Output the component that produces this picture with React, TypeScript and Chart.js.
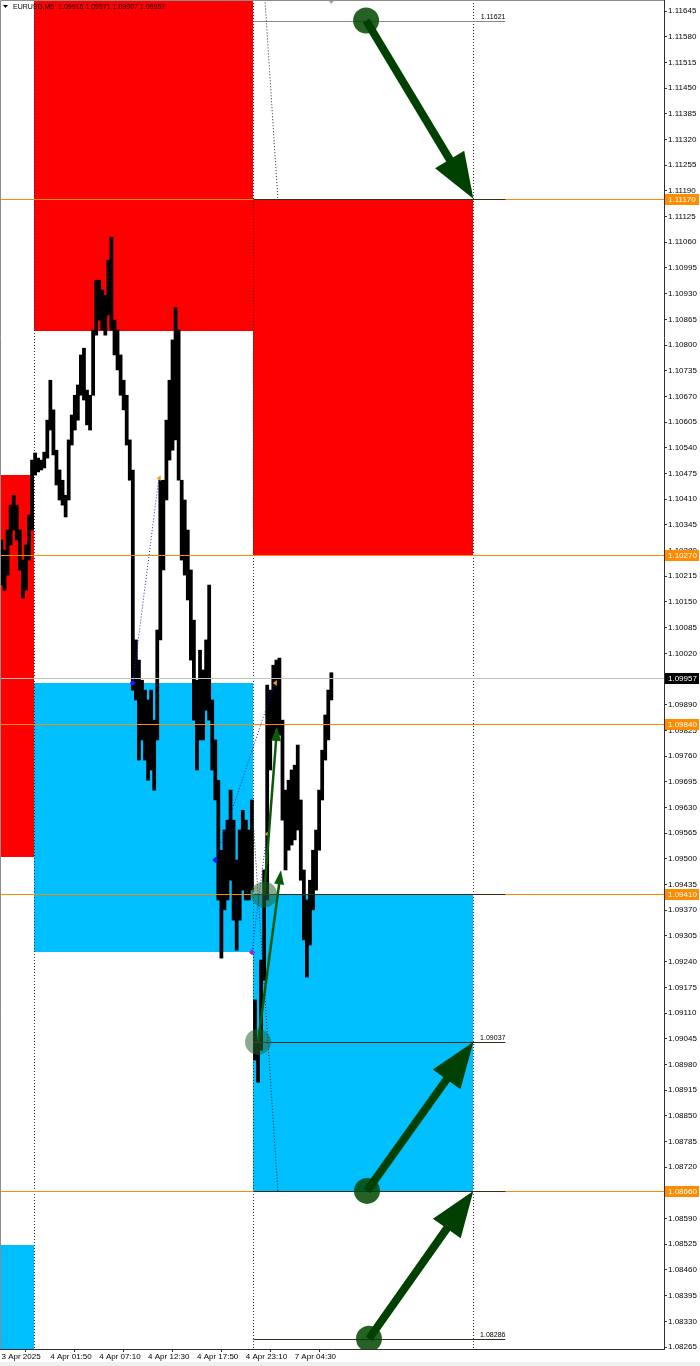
import React, { useEffect, useRef } from "react";
import { Chart, registerables } from "chart.js";

Chart.register(...registerables);

// ---------- DATA ----------
// M5 bar index counted from 3 Apr 2025 20:30 (server time)
const barIndex = [
  0, 4, 8, 12, 16, 20, 24, 28, 32, 36, 40, 44, 48, 52, 56, 60, 64, 68, 72, 76,
  80, 84, 88, 92, 96, 100, 104, 108, 112, 116, 120, 124, 128, 132, 136, 140, 144, 148, 152, 156,
  160, 164, 168, 172, 176, 180, 184, 188, 192, 196, 200, 204, 208, 212, 216, 220, 224, 228, 232, 236,
  240, 244, 248, 252, 256, 260, 264, 268, 272, 276, 280, 284, 288, 292, 296, 300, 304, 308, 312, 316,
  320, 324, 328,
  332, 336, 340, 344, 348, 352, 356, 360, 364, 368, 372, 376, 380, 384, 388, 392, 396, 400, 404, 408,
  412, 416, 420, 424, 428, 432,
];
const highs = [
  1.10307, 1.10281, 1.10332, 1.10395, 1.1042, 1.10395, 1.10332, 1.10256, 1.10294, 1.1037, 1.10509, 1.10527, 1.10514, 1.10509, 1.10529, 1.1061, 1.10711, 1.10636, 1.10534, 1.10484,
  1.10458, 1.1042, 1.1056, 1.10623, 1.10673, 1.10699, 1.10775, 1.10792, 1.10686, 1.10673, 1.10838, 1.10964, 1.10964, 1.10939, 1.10926, 1.11015, 1.11073, 1.10863, 1.10838, 1.10775,
  1.10711, 1.10673, 1.1056, 1.10484, 1.10054, 1.10003, 1.09952, 1.09927, 1.09902, 1.09927, 1.09851, 1.10079, 1.10458, 1.10458, 1.1061, 1.10711, 1.10813, 1.10894, 1.10838, 1.10458,
  1.10408, 1.10332, 1.10231, 1.10104, 1.09952, 1.10028, 1.09978, 1.10054, 1.10193, 1.09902, 1.09801, 1.09699, 1.09522, 1.09573, 1.09598, 1.09674, 1.09598, 1.09497, 1.09573, 1.09623,
  1.09598, 1.09573, 1.09649,
  1.09143, 1.09042, 1.09244, 1.09472, 1.0994, 1.09927, 1.0999, 1.10003, 1.10008, 1.09851, 1.09674, 1.09699, 1.09725, 1.09737, 1.09788, 1.09649, 1.09472, 1.09396, 1.09446, 1.09522,
  1.09573, 1.09674, 1.09775, 1.09864, 1.09927, 1.09971,
];
const lows = [
  1.10193, 1.1018, 1.10218, 1.10294, 1.10332, 1.10307, 1.10231, 1.1016, 1.1018, 1.10256, 1.10332, 1.10471, 1.10479, 1.10484, 1.10489, 1.10514, 1.10585, 1.10522, 1.10446, 1.10408,
  1.10395, 1.10365, 1.10408, 1.10547, 1.10585, 1.1061, 1.10673, 1.10661, 1.10598, 1.10585, 1.10673, 1.10825, 1.10863, 1.10838, 1.10825, 1.10876, 1.10838, 1.10775, 1.10737, 1.10673,
  1.10636, 1.10547, 1.10458, 1.09927, 1.09902, 1.0975, 1.09801, 1.0975, 1.09699, 1.09725, 1.09674, 1.09801, 1.10054, 1.10231, 1.10408, 1.10509, 1.10534, 1.1056, 1.10458, 1.10256,
  1.10218, 1.10155, 1.10003, 1.09851, 1.09725, 1.09801, 1.09801, 1.09876, 1.09851, 1.09725, 1.09649, 1.09396, 1.09249, 1.09371, 1.09396, 1.09446, 1.09345, 1.09269, 1.09345, 1.09421,
  1.09396, 1.09396, 1.09421,
  1.08991, 1.08935, 1.09016, 1.09193, 1.09396, 1.09725, 1.09801, 1.09826, 1.09813, 1.09598, 1.09472, 1.09522, 1.09535, 1.09548, 1.09573, 1.09446, 1.09295, 1.09201, 1.09282, 1.09371,
  1.09421, 1.09522, 1.09649, 1.0975, 1.09801, 1.09902,
];

const timeTicks = [0, 64, 128, 192, 256, 320, 384];
const timeLabels = ["3 Apr 2025", "4 Apr 01:50", "4 Apr 07:10", "4 Apr 12:30", "4 Apr 17:50", "4 Apr 23:10", "7 Apr 04:30"];

const priceTicks = [
  1.11645, 1.1158, 1.11515, 1.1145, 1.11385, 1.1132, 1.11255, 1.1119, 1.11125, 1.1106,
  1.10995, 1.1093, 1.10865, 1.108, 1.10735, 1.1067, 1.10605, 1.1054, 1.10475, 1.1041,
  1.10345, 1.1028, 1.10215, 1.1015, 1.10085, 1.1002, 1.09955, 1.0989, 1.09825, 1.0976,
  1.09695, 1.0963, 1.09565, 1.095, 1.09435, 1.0937, 1.09305, 1.0924, 1.09175, 1.0911,
  1.09045, 1.0898, 1.08915, 1.0885, 1.08785, 1.0872, 1.08655, 1.0859, 1.08525, 1.0846,
  1.08395, 1.0833, 1.08265,
];

const symbolTitle = "EURUSD,M5";
const ohlc = ["1.09915", "1.09971", "1.09907", "1.09957"];

// supply / demand zones (bar range, price range)
const zoneKind = ["supply", "demand", "supply", "demand", "supply", "demand"];
const zoneFrom = [-10, -10, 42, 42, 330, 330];
const zoneTo = [42, 42, 330, 330, 618, 618];
const zoneHigh = [1.10471, 1.08523, 1.1175, 1.09945, 1.1117, 1.0941];
const zoneLow = [1.09505, 1.0815, 1.10835, 1.09264, 1.1027, 1.0866];

// day separators
const daySeparators = [42, 330, 618];

// horizontal levels
const levelPrices = [1.1117, 1.1027, 1.0984, 1.0941, 1.0866];
const lastPrice = 1.09957;

// trend segments drawn on Monday
const segPrices = [1.11621, 1.1117, 1.0941, 1.09037, 1.0866, 1.08286];
const segLabelled = [true, false, false, true, false, true];
const segFrom = 330;
const segTo = 660;

// zigzag (dotted blue)
const zzFromBar = [172, 280, 328];
const zzFromPrice = [1.09945, 1.09497, 1.09264];
const zzToBar = [206, 358, 347.5];
const zzToPrice = [1.10463, 1.09945, 1.09563];

// dotted black slanted lines
const slFromBar = [342.5, 330.5];
const slFromPrice = [1.1175, 1.09572];
const slToBar = [362, 362];
const slToPrice = [1.1117, 1.0866];

// big arrows
const bigFromBar = [477.5, 478.7, 481.3];
const bigFromPrice = [1.11621, 1.0866, 1.08286];
const bigToBar = [618, 618, 618];
const bigToPrice = [1.1117, 1.09037, 1.0866];

// thin arrows
const thinFromBar = [336, 344];
const thinFromPrice = [1.09037, 1.0941];
const thinToBar = [366, 361];
const thinToPrice = [1.09471, 1.09834];

const X_MIN = -1.96;
const X_MAX = 867.7;
const Y_MIN = 1.0826;
const Y_MAX = 1.11673;

const FONT = "'Liberation Sans', Arial, sans-serif";

function arrow(ctx: CanvasRenderingContext2D, x1: number, y1: number, x2: number, y2: number, w: number, hl: number, hw: number, color: string) {
  const dx = x2 - x1;
  const dy = y2 - y1;
  const len = Math.hypot(dx, dy);
  const ux = dx / len;
  const uy = dy / len;
  const bx = x2 - ux * hl;
  const by = y2 - uy * hl;
  ctx.save();
  ctx.strokeStyle = color;
  ctx.fillStyle = color;
  ctx.lineWidth = w;
  ctx.lineCap = "butt";
  ctx.beginPath();
  ctx.moveTo(x1, y1);
  ctx.lineTo(bx + ux * 2, by + uy * 2);
  ctx.stroke();
  ctx.beginPath();
  ctx.moveTo(x2, y2);
  ctx.lineTo(bx - uy * hw, by + ux * hw);
  ctx.lineTo(bx + uy * hw, by - ux * hw);
  ctx.closePath();
  ctx.fill();
  ctx.restore();
}

const overlayPlugin = {
  id: "overlay",
  beforeDatasetsDraw(chart: any) {
    const { ctx, chartArea: a, scales } = chart;
    const xs = scales.x;
    const ys = scales.y;
    ctx.save();
    ctx.beginPath();
    ctx.rect(a.left, a.top, a.right - a.left, a.bottom - a.top);
    ctx.clip();
    for (let i = 0; i < zoneKind.length; i++) {
      const x1 = Math.round(xs.getPixelForValue(zoneFrom[i]));
      const x2 = Math.round(xs.getPixelForValue(zoneTo[i]));
      const y1 = Math.round(ys.getPixelForValue(zoneHigh[i]));
      const y2 = Math.round(ys.getPixelForValue(zoneLow[i]));
      ctx.fillStyle = zoneKind[i] === "supply" ? "#FF0000" : "#00BFFF";
      ctx.fillRect(x1, y1, x2 - x1, y2 - y1);
    }
    // day separators
    ctx.strokeStyle = "#303030";
    ctx.lineWidth = 1;
    ctx.setLineDash([1, 2]);
    for (const d of daySeparators) {
      const x = Math.round(xs.getPixelForValue(d)) + 0.5;
      ctx.beginPath();
      ctx.moveTo(x, a.top);
      ctx.lineTo(x, a.bottom);
      ctx.stroke();
    }
    ctx.setLineDash([]);
    ctx.restore();
  },
  afterDatasetsDraw(chart: any) {
    const { ctx, chartArea: a, scales } = chart;
    const xs = scales.x;
    const ys = scales.y;
    const X = (v: number) => xs.getPixelForValue(v);
    const Y = (v: number) => ys.getPixelForValue(v);
    ctx.save();
    ctx.beginPath();
    ctx.rect(a.left, a.top, a.right - a.left, a.bottom - a.top);
    ctx.clip();

    // current price line
    ctx.strokeStyle = "#C0C0C0";
    ctx.lineWidth = 1;
    let y = Math.round(Y(lastPrice)) + 0.5;
    ctx.beginPath();
    ctx.moveTo(a.left, y);
    ctx.lineTo(a.right, y);
    ctx.stroke();

    // orange levels
    ctx.strokeStyle = "#FF8C00";
    for (const p of levelPrices) {
      y = Math.round(Y(p)) + 0.5;
      ctx.beginPath();
      ctx.moveTo(a.left, y);
      ctx.lineTo(a.right, y);
      ctx.stroke();
    }

    // trend segments
    ctx.font = `7px ${FONT}`;
    ctx.textAlign = "right";
    ctx.textBaseline = "bottom";
    for (let i = 0; i < segPrices.length; i++) {
      y = Math.round(Y(segPrices[i])) + 0.5;
      const x1 = X(segFrom);
      const x2 = X(segTo);
      ctx.strokeStyle = i === 0 ? "#8a8a8a" : "#3a2a1a";
      ctx.beginPath();
      ctx.moveTo(x1, y);
      ctx.lineTo(x2, y);
      ctx.stroke();
      if (segLabelled[i]) {
        ctx.fillStyle = "#000";
        ctx.fillText(segPrices[i].toFixed(5), x2, y - 1);
      }
    }

    // slanted dotted lines
    ctx.strokeStyle = "#202020";
    ctx.setLineDash([1, 2]);
    for (let i = 0; i < slFromBar.length; i++) {
      ctx.beginPath();
      ctx.moveTo(X(slFromBar[i]), Y(slFromPrice[i]));
      ctx.lineTo(X(slToBar[i]), Y(slToPrice[i]));
      ctx.stroke();
    }
    // zigzag dotted blue
    ctx.strokeStyle = "#1a1aff";
    for (let i = 0; i < zzFromBar.length; i++) {
      ctx.beginPath();
      ctx.moveTo(X(zzFromBar[i]), Y(zzFromPrice[i]));
      ctx.lineTo(X(zzToBar[i]), Y(zzToPrice[i]));
      ctx.stroke();
    }
    ctx.setLineDash([]);
    for (let i = 0; i < zzFromBar.length; i++) {
      const px = X(zzFromBar[i]);
      const py = Y(zzFromPrice[i]);
      ctx.fillStyle = i === 2 ? "#8a2be2" : "#1a1aff";
      ctx.beginPath();
      ctx.moveTo(px, py - 3);
      ctx.lineTo(px + 3, py);
      ctx.lineTo(px, py + 3);
      ctx.lineTo(px - 3, py);
      ctx.closePath();
      ctx.fill();
      const qx = X(zzToBar[i]);
      const qy = Y(zzToPrice[i]);
      ctx.fillStyle = "#E8A317";
      ctx.beginPath();
      ctx.moveTo(qx - 2, qy);
      ctx.lineTo(qx + 2, qy - 3);
      ctx.lineTo(qx + 2, qy + 3);
      ctx.closePath();
      ctx.fill();
    }

    // thin arrows with translucent circles
    for (let i = 0; i < thinFromBar.length; i++) {
      const x1 = X(thinFromBar[i]);
      const y1 = Y(thinFromPrice[i]);
      ctx.fillStyle = "rgba(40,100,50,0.55)";
      ctx.beginPath();
      ctx.arc(x1, y1, 13, 0, Math.PI * 2);
      ctx.fill();
      arrow(ctx, x1, y1, X(thinToBar[i]), Y(thinToPrice[i]), 2.5, 14, 5, "#0a5a0a");
    }

    // big arrows
    for (let i = 0; i < bigFromBar.length; i++) {
      const x1 = X(bigFromBar[i]);
      const y1 = Y(bigFromPrice[i]);
      ctx.fillStyle = "rgba(0,70,0,0.85)";
      ctx.beginPath();
      ctx.arc(x1, y1, 13, 0, Math.PI * 2);
      ctx.fill();
      arrow(ctx, x1, y1, X(bigToBar[i]), Y(bigToPrice[i]), 8, 46, 17, "#004000");
    }

    // chart shift marker
    const sx = X(432);
    ctx.fillStyle = "#a0a0a0";
    ctx.beginPath();
    ctx.moveTo(sx - 3, a.top);
    ctx.lineTo(sx + 3, a.top);
    ctx.lineTo(sx, a.top + 4);
    ctx.closePath();
    ctx.fill();

    ctx.restore();
  },
  afterDraw(chart: any) {
    const { ctx, chartArea: a, scales } = chart;
    const ys = scales.y;
    ctx.save();
    // frame
    ctx.strokeStyle = "#8c8c8c";
    ctx.lineWidth = 1;
    ctx.beginPath();
    ctx.moveTo(a.left + 0.5, a.bottom);
    ctx.lineTo(a.left + 0.5, a.top + 0.5);
    ctx.lineTo(a.right, a.top + 0.5);
    ctx.stroke();

    // price boxes
    ctx.font = `8px ${FONT}`;
    ctx.textAlign = "left";
    ctx.textBaseline = "middle";
    const box = (p: number, bg: string, fg: string) => {
      const yy = Math.round(ys.getPixelForValue(p));
      ctx.fillStyle = bg;
      ctx.fillRect(a.right + 1, yy - 5, 34, 11);
      ctx.fillStyle = fg;
      ctx.fillText(p.toFixed(5), a.right + 4, yy + 0.5);
    };
    for (const p of levelPrices) box(p, "#FF8C00", "#ffffff");
    box(lastPrice, "#000000", "#ffffff");

    // header
    ctx.fillStyle = "#000";
    ctx.beginPath();
    ctx.moveTo(3, 5);
    ctx.lineTo(8, 5);
    ctx.lineTo(5.5, 8);
    ctx.closePath();
    ctx.fill();
    ctx.font = `7px ${FONT}`;
    ctx.textBaseline = "middle";
    ctx.fillText(`${symbolTitle}  ${ohlc.join(" ")}`, 13, 7);

    // bottom strip
    ctx.fillStyle = "#f0f0f0";
    ctx.fillRect(0, 1362, 700, 4);
    ctx.restore();
  },
};

export default function App() {
  const ref = useRef<HTMLCanvasElement | null>(null);
  useEffect(() => {
    document.body.style.margin = "0";
    const canvas = ref.current!;
    const data = barIndex.map((b, i) => ({ x: b, y: [lows[i], highs[i]] }));
    const chart = new Chart(canvas, {
      type: "bar",
      data: {
        datasets: [
          {
            data: data as any,
            backgroundColor: "#000000",
            borderWidth: 0,
            barThickness: 3.1,
            grouped: false,
          } as any,
        ],
      },
      options: {
        animation: false,
        responsive: false,
        maintainAspectRatio: false,
        layout: { padding: 0 },
        plugins: { legend: { display: false }, tooltip: { enabled: false } },
        scales: {
          x: {
            type: "linear",
            min: X_MIN,
            max: X_MAX,
            position: "bottom",
            offset: false,
            grid: { display: true, drawOnChartArea: false, drawTicks: true, tickLength: 3, color: "#303030" },
            border: { display: true, color: "#303030" },
            afterBuildTicks: (s: any) => {
              s.ticks = timeTicks.map((v) => ({ value: v }));
            },
            ticks: {
              autoSkip: false,
              maxRotation: 0,
              minRotation: 0,
              align: "start",
              padding: 0,
              color: "#000",
              font: { family: FONT, size: 8 },
              callback: (v: any) => {
                const i = timeTicks.indexOf(Number(v));
                return i >= 0 ? timeLabels[i] : "";
              },
            },
            afterFit: (s: any) => {
              s.height = 17;
              s.paddingLeft = 0;
              s.paddingRight = 0;
            },
          },
          y: {
            type: "linear",
            position: "right",
            min: Y_MIN,
            max: Y_MAX,
            grid: { display: true, drawOnChartArea: false, drawTicks: true, tickLength: 3, color: "#303030" },
            border: { display: true, color: "#303030" },
            afterBuildTicks: (s: any) => {
              s.ticks = priceTicks.map((v) => ({ value: v }));
            },
            ticks: {
              autoSkip: false,
              padding: 1,
              color: "#000",
              font: { family: FONT, size: 8 },
              callback: (v: any) => Number(v).toFixed(5),
            },
            afterFit: (s: any) => {
              s.width = 36;
              s.paddingTop = 0;
              s.paddingBottom = 0;
            },
          },
        },
      },
      plugins: [overlayPlugin],
    });
    return () => chart.destroy();
  }, []);
  return (
    <div style={{ position: "absolute", left: 0, top: 0, width: 700, height: 1366, background: "#ffffff" }}>
      <canvas ref={ref} width={700} height={1366} style={{ display: "block", width: 700, height: 1366 }} />
    </div>
  );
}
